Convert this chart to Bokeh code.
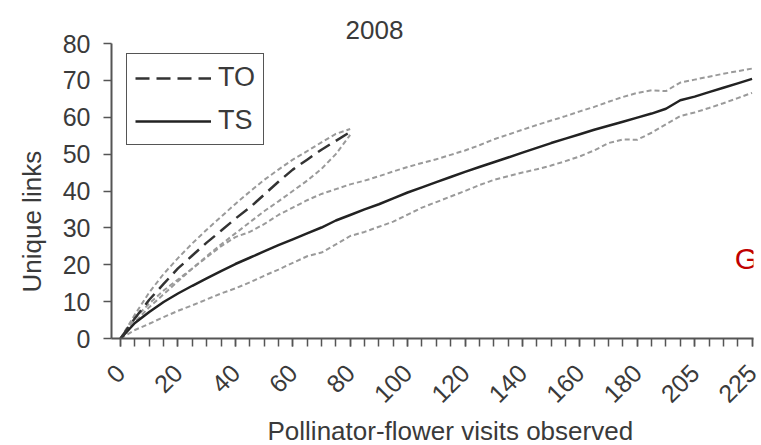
from bokeh.plotting import figure
from bokeh.models import Range1d, FixedTicker, Legend, LegendItem, Label, Title
from bokeh.embed import file_html
from bokeh.resources import INLINE

# x positions are the evenly spaced sampling steps of the original axis
tick_pos = [0, 4, 8, 12, 16, 20, 24, 28, 32, 36, 40, 44]
tick_labels = ["0", "20", "40", "60", "80", "100", "120", "140", "160", "180", "205", "225"]

ts_mean = [0, 4.2, 7.2, 9.9, 12.2, 14.3, 16.3, 18.3, 20.2, 21.9, 23.6, 25.3, 26.9, 28.5,
           30.1, 32.0, 33.5, 35.0, 36.4, 38.0, 39.6, 41.0, 42.4, 43.8, 45.2, 46.5, 47.8,
           49.1, 50.4, 51.7, 53.0, 54.2, 55.4, 56.6, 57.7, 58.8, 59.9, 61.0, 62.3, 64.6,
           65.6, 66.8, 68.0, 69.2, 70.4]
ts_upper = [0, 5.5, 9.5, 13.0, 16.0, 19.0, 22.0, 25.0, 27.5, 28.9, 31.0, 33.5, 35.5, 37.5,
            39.2, 40.5, 41.8, 42.8, 44.0, 45.3, 46.5, 47.6, 48.6, 49.8, 51.0, 52.4, 54.0,
            55.3, 56.6, 57.9, 59.1, 60.3, 61.6, 62.8, 64.2, 65.5, 66.6, 67.3, 67.1, 69.4,
            70.2, 71.0, 71.8, 72.5, 73.2]
ts_lower = [0, 2.3, 4.0, 5.8, 7.5, 9.0, 10.6, 12.2, 13.6, 15.2, 17.0, 18.7, 20.5, 22.3,
            23.3, 25.5, 27.8, 28.9, 30.3, 31.7, 33.6, 35.5, 37.0, 38.5, 40.0, 41.6, 43.0,
            44.0, 45.0, 45.9, 46.9, 48.1, 49.4, 51.0, 53.0, 54.0, 53.9, 55.8, 58.1, 60.3,
            61.3, 62.5, 63.8, 65.2, 66.6]

to_mean = [0, 5.5, 10.5, 14.8, 19.0, 22.5, 26.0, 29.2, 32.5, 35.5, 39.0, 42.5, 45.8,
           48.5, 51.2, 53.6, 56.0]
to_upper = [0, 6.5, 12.5, 17.5, 21.8, 25.8, 29.5, 33.0, 36.5, 39.8, 43.0, 45.8, 48.5,
            50.8, 53.2, 55.5, 56.8]
to_lower = [0, 4.5, 8.5, 12.0, 15.5, 19.0, 22.3, 25.5, 28.5, 31.5, 34.5, 37.2, 40.0,
            42.8, 46.0, 50.0, 55.2]

x_ts = list(range(len(ts_mean)))
x_to = list(range(len(to_mean)))

FONT = "Liberation Sans"
TXT = "#3a3a3a"

p = figure(width=761, height=445, output_backend="svg", toolbar_location=None,
           x_range=Range1d(-0.63, 44.1), y_range=Range1d(0, 80),
           min_border_left=111, min_border_right=8, min_border_top=43, min_border_bottom=107)
p.outline_line_color = None
p.grid.visible = False
p.background_fill_color = "white"

p.title.text = "2008"
p.title.align = "left"
p.title.offset = 234
p.title.text_font = FONT
p.title.text_font_size = "26px"
p.title.text_font_style = "normal"
p.title.text_color = TXT

band = dict(line_color="#9a9a9a", line_width=2, line_dash="5 3")
p.line(x_ts, ts_upper, **band)
p.line(x_ts, ts_lower, **band)
p.line(x_to, to_upper, **band)
p.line(x_to, to_lower, **band)
r_ts = p.line(x_ts, ts_mean, line_color="#222222", line_width=2.5)
r_to = p.line(x_to, to_mean, line_color="#333333", line_width=2.5, line_dash="14 7")

# axes
p.xaxis.ticker = FixedTicker(ticks=tick_pos, minor_ticks=x_ts)
p.xaxis.major_label_overrides = {t: l for t, l in zip(tick_pos, tick_labels)}
p.xaxis.major_label_orientation = 0.785398
p.yaxis.ticker = FixedTicker(ticks=[0, 10, 20, 30, 40, 50, 60, 70, 80])
for ax in (p.xaxis[0], p.yaxis[0]):
    ax.axis_line_color = "#555555"
    ax.axis_line_width = 2
    ax.major_tick_line_color = "#555555"
    ax.minor_tick_line_color = "#555555"
    ax.major_tick_line_width = 1.5
    ax.minor_tick_line_width = 1.5
    ax.major_tick_out = 8
    ax.major_tick_in = 0
    ax.minor_tick_out = 8
    ax.minor_tick_in = 0
    ax.major_label_text_font = FONT
    ax.major_label_text_font_size = "25px"
    ax.major_label_text_color = TXT
p.yaxis.minor_tick_out = 0
p.xaxis.major_label_standoff = 22
p.yaxis.major_label_standoff = 13

ytitle = Title(text="Unique links", align="left", offset=46,
               text_font=FONT, text_font_size="26px", text_font_style="normal",
               text_color=TXT, standoff=25)
p.add_layout(ytitle, "left")

xtitle = Title(text="Pollinator-flower visits observed", align="left", offset=156,
               text_font=FONT, text_font_size="26px", text_font_style="normal",
               text_color=TXT, standoff=0)
p.add_layout(xtitle, "below")

legend = Legend(items=[LegendItem(label="TO", renderers=[r_to]),
                       LegendItem(label="TS", renderers=[r_ts])],
                location=(15, 193))
legend.border_line_color = "#555555"
legend.border_line_alpha = 1
legend.border_line_width = 1.5
legend.background_fill_color = "white"
legend.background_fill_alpha = 1
legend.glyph_width = 76
legend.glyph_height = 24
legend.label_height = 24
legend.label_text_font = FONT
legend.label_text_font_size = "27px"
legend.label_text_color = TXT
legend.label_standoff = 7
legend.spacing = 12
legend.padding = 8
legend.margin = 0
p.add_layout(legend)

p.add_layout(Label(x=43.6, y=21.7, text="G", text_font=FONT, text_font_size="30px",
                   text_color="#c00000", text_align="center", text_baseline="middle"))

open("out.html", "w").write(file_html(p, INLINE))
